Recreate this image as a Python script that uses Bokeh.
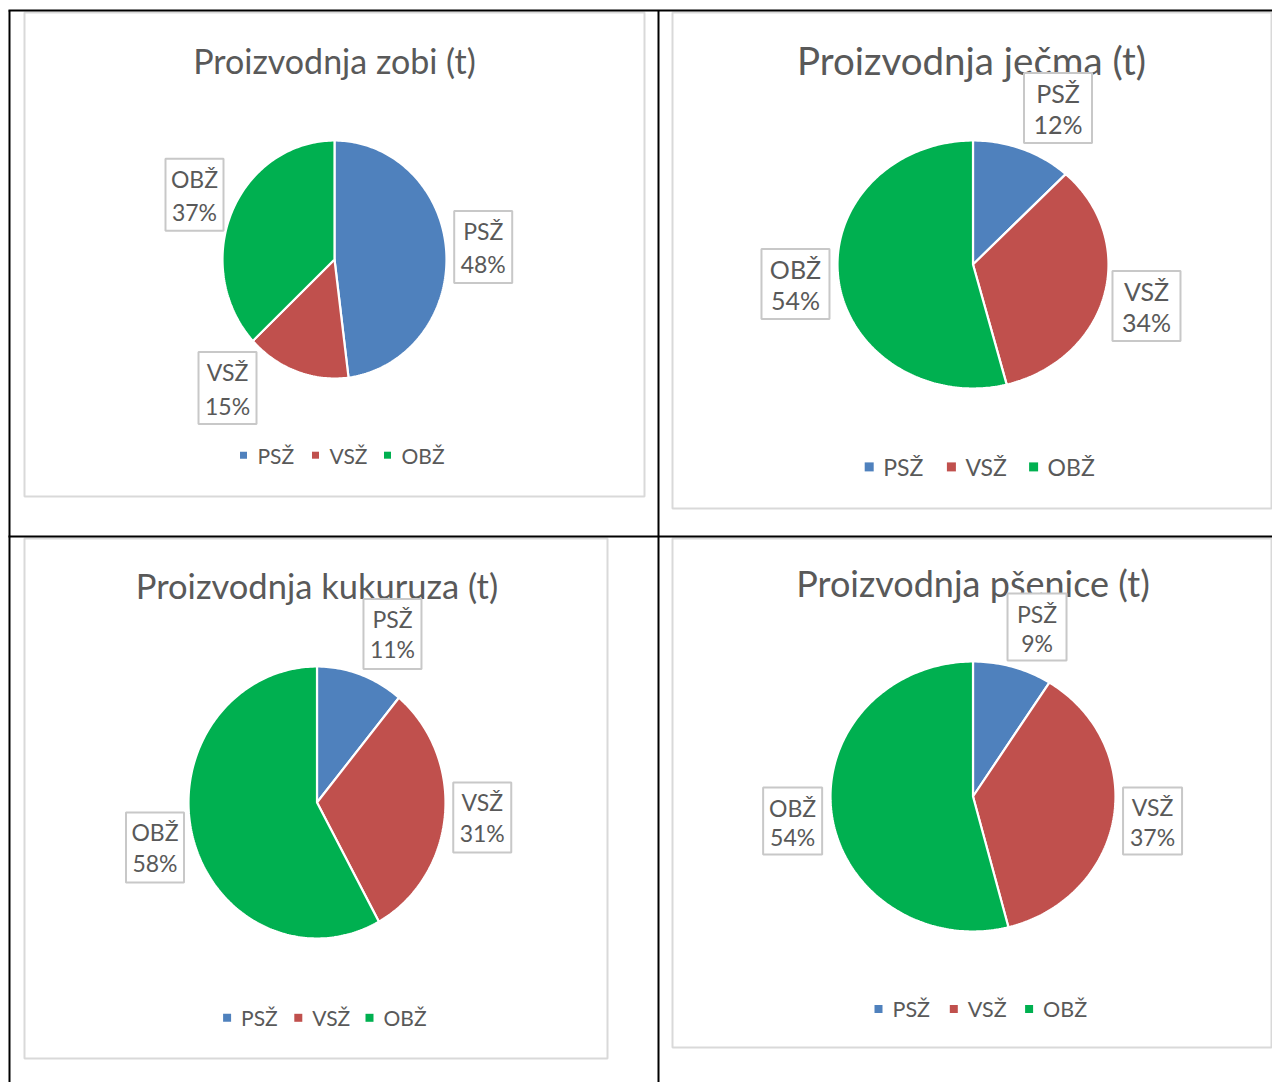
import numpy as np
from bokeh.plotting import figure
from bokeh.models import Range1d
from bokeh.core.properties import value
from bokeh.embed import file_html
from bokeh.resources import INLINE

# ---------------- data ----------------
categories = ["PSŽ", "VSŽ", "OBŽ"]
titles = ["Proizvodnja zobi (t)", "Proizvodnja ječma (t)",
          "Proizvodnja kukuruza (t)", "Proizvodnja pšenice (t)"]
zobi = [48, 15, 37]
jecma = [12, 34, 54]
kukuruza = [11, 31, 58]
psenice = [9, 37, 54]
series = [zobi, jecma, kukuruza, psenice]

# ---------------- styles / layout ----------------
colors = ["#4f81bd", "#c0504d", "#00b050"]
TEXT = "#595959"
FONT = "Lato"
W, H = 1272, 1082

panels = [
    dict(box=(24, 12, 644, 496), pie=(334, 259, 112, 119), title=(334, 59.5), tsize=34,
         lsize=23, gsize=21, lbox=(58, 72), loff=(-16, 17.4),
         nudge=[(-3, -2.5), (-55.5, -21), (-0.5, -1.5)], legend=(243, 72, 454.7), sq=7),
    dict(box=(672, 12, 1271, 508), pie=(972.5, 264, 135.5, 124), title=(971, 59.4), tsize=38.5,
         lsize=25, gsize=23, lbox=(68, 70), loff=(-15.3, 15.7),
         nudge=[(20.4, -4), (3.5, 0.7), (-3.4, -1)], legend=(868.7, 82.2, 466.4), sq=9),
    dict(box=(24, 538, 607, 1058), pie=(316.5, 802, 128.5, 136), title=(316.5, 585), tsize=34.5,
         lsize=23, gsize=21, lbox=(58, 70), loff=(-15.5, 15.3),
         nudge=[(18.4, -2.9), (-2.5, -1.6), (1.2, 1.2)], legend=(226.6, 71.2, 1017.3), sq=8),
    dict(box=(672, 538, 1271, 1047), pie=(972.5, 796, 142.5, 135), title=(972.5, 582.2), tsize=36,
         lsize=23, gsize=21.5, lbox=(59, 67), loff=(-13.5, 16),
         nudge=[(13.1, -1.4), (-0.7, -2.9), (0.7, 2.6)], legend=(878, 75.3, 1008.5), sq=8),
]

p = figure(width=W, height=H, x_range=Range1d(0, W), y_range=Range1d(H, 0),
           output_backend="svg", toolbar_location=None, min_border=0,
           x_axis_type=None, y_axis_type=None)
p.grid.visible = False
p.outline_line_color = None
p.background_fill_color = "white"
p.border_fill_color = "white"

for vals, ttl, cfg in zip(series, titles, panels):
    l, t, r, b = cfg["box"]
    p.quad(left=[l], right=[r], top=[t], bottom=[b], fill_color="white",
           line_color="#d9d9d9", line_width=2)

    # title
    tx, ty = cfg["title"]
    p.text(x=[tx], y=[ty], text=[ttl], text_font=value(FONT),
           text_font_size=value(f"{cfg['tsize']}px"), text_color=TEXT,
           text_align="center", text_baseline="middle")

    # pie slices (elliptical, from data)
    cx, cy, rx, ry = cfg["pie"]
    total = float(sum(vals))
    fr = np.cumsum([0] + list(vals)) / total
    xs, ys, mids = [], [], []
    for i in range(len(vals)):
        a0, a1 = fr[i] * 2 * np.pi, fr[i + 1] * 2 * np.pi
        n = max(8, int((a1 - a0) / (2 * np.pi) * 360))
        tt = np.linspace(a0, a1, n)
        xs.append([cx] + list(cx + rx * np.sin(tt)))
        ys.append([cy] + list(cy - ry * np.cos(tt)))
        mids.append((a0 + a1) / 2)
    p.patches(xs=xs, ys=ys, fill_color=colors, line_color="white", line_width=2.2)

    # data labels
    bw, bh = cfg["lbox"]
    o1, o2 = cfg["loff"]
    lx, ly = [], []
    for m, (dx, dy) in zip(mids, cfg["nudge"]):
        lx.append(cx + (rx + 40) * np.sin(m) + dx)
        ly.append(cy - (ry + 40) * np.cos(m) + dy)
    p.rect(x=lx, y=ly, width=bw, height=bh, fill_color="white",
           line_color="#c8c8c8", line_width=2)
    pct = [f"{round(v / total * 100)}%" for v in vals]
    p.text(x=lx, y=[y + o1 for y in ly], text=categories, text_font=value(FONT),
           text_font_size=value(f"{cfg['lsize']}px"), text_color=TEXT,
           text_align="center", text_baseline="middle")
    p.text(x=lx, y=[y + o2 for y in ly], text=pct, text_font=value(FONT),
           text_font_size=value(f"{cfg['lsize']}px"), text_color=TEXT,
           text_align="center", text_baseline="middle")

    # legend
    sx, pitch, sy = cfg["legend"]
    qx = [sx + i * pitch for i in range(len(categories))]
    s = cfg["sq"]
    p.rect(x=qx, y=[sy] * len(qx), width=s, height=s, fill_color=colors, line_color=None)
    p.text(x=[q + 14 for q in qx], y=[sy] * len(qx), text=categories,
           text_font=value(FONT), text_font_size=value(f"{cfg['gsize']}px"),
           text_color=TEXT, text_align="left", text_baseline="middle")

# table lines
p.segment(x0=[8, 9, 658, 8], y0=[10, 10, 10, 536], x1=[1272, 9, 658, 1272],
          y1=[10, 1082, 1082, 536], line_color="black", line_width=2)

open("out.html", "w").write(file_html(p, INLINE))
